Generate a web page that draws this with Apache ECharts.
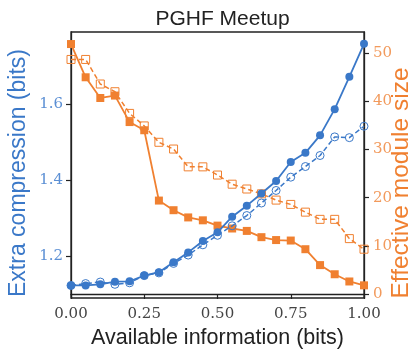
<!DOCTYPE html>
<html>
<head>
<meta charset="utf-8">
<script src="https://cdn.jsdelivr.net/npm/echarts@6/dist/echarts.min.js"></script>
<style>html,body{margin:0;padding:0;background:#fff}#c{width:415px;height:353px}</style>
</head>
<body>
<div id="c"></div>
<script>
const xValues = [0.00,0.05,0.10,0.15,0.20,0.25,0.30,0.35,0.40,0.45,0.50,0.55,0.60,0.65,0.70,0.75,0.80,0.85,0.90,0.95,1.00];
const compressionSolid = [1.122,1.122,1.125,1.132,1.133,1.148,1.157,1.183,1.209,1.239,1.262,1.303,1.332,1.364,1.397,1.447,1.471,1.517,1.586,1.671,1.758];
const compressionDashed = [1.122,1.127,1.131,1.125,1.129,1.148,1.155,1.180,1.202,1.229,1.254,1.279,1.306,1.339,1.372,1.407,1.435,1.464,1.513,1.511,1.541];
const moduleSolid = [51.9,45.0,40.7,41.2,35.7,34.0,19.4,17.4,15.9,15.3,14.2,13.6,13.1,11.8,11.2,11.1,9.3,6.0,4.1,2.6,1.8];
const moduleDashed = [48.7,48.7,43.6,42.0,37.5,34.9,31.5,30.1,26.4,26.4,24.7,22.8,21.8,20.8,19.5,18.6,17.0,15.5,15.5,11.5,9.3];
const xTicks = [0,0.25,0.5,0.75,1.0];
const leftTicks = [1.2,1.4,1.6];
const rightTicks = [0,10,20,30,40,50];

const BLUE = '#3a78c8';
const ORANGE = '#f08030';
const AXIS = '#222';
const serif = 'DejaVu Serif';
const sans = 'Liberation Sans';

function pairs(ys){ return xValues.map((x,i)=>[x, ys[i]]); }

const chart = echarts.init(document.getElementById('c'), null, {renderer:'canvas'});
chart.setOption({
  animation:false,
  backgroundColor:'#fff',
  title:{
    text:'PGHF Meetup', left:217.5, top:4, textAlign:'center',
    textStyle:{fontFamily:sans, fontSize:21, fontWeight:'normal', color:'#222'}
  },
  grid:{left:71, right:51, top:32, bottom:55, outerBoundsMode:'none', containLabel:false,
        show:true, borderColor:AXIS, borderWidth:1.3, backgroundColor:'transparent'},
  xAxis:{
    type:'value', min:0, max:1, interval:0.25,
    name:'Available information (bits)', nameLocation:'middle', nameGap:29, nameMoveOverlap:false,
    nameTextStyle:{fontFamily:sans, fontSize:21.5, color:'#222'},
    axisLine:{show:true, lineStyle:{color:AXIS, width:1.3}},
    axisTick:{show:true, length:5, customValues:xTicks, lineStyle:{color:AXIS, width:1.2}},
    axisLabel:{fontFamily:serif, fontSize:15, color:'#444', margin:9, customValues:xTicks, formatter:v=>v.toFixed(2)},
    splitLine:{show:false}
  },
  yAxis:[{
    type:'value', min:1.089, max:1.789, position:'left',
    name:'Extra compression (bits)', nameLocation:'middle', nameGap:41, nameRotate:90, nameMoveOverlap:false,
    nameTextStyle:{fontFamily:sans, fontSize:23, color:BLUE, padding:[0,16,0,0]},
    axisLine:{show:true, lineStyle:{color:AXIS, width:1.3}},
    axisTick:{show:true, length:5, customValues:leftTicks, lineStyle:{color:AXIS, width:1.2}},
    axisLabel:{fontFamily:serif, fontSize:15, color:'#5b8fd4', margin:8, customValues:leftTicks, formatter:v=>v.toFixed(1)},
    splitLine:{show:false}
  },{
    type:'value', min:-0.83, max:54.4, position:'right',
    name:'Effective module size', nameLocation:'middle', nameGap:25, nameRotate:90, nameMoveOverlap:false,
    nameTextStyle:{fontFamily:sans, fontSize:24.5, color:ORANGE, padding:[0,36,0,0]},
    axisLine:{show:true, lineStyle:{color:AXIS, width:1.3}},
    axisTick:{show:true, length:5, customValues:rightTicks, lineStyle:{color:AXIS, width:1.2}},
    axisLabel:{fontFamily:serif, fontSize:15, color:'#f29a5c', margin:9, customValues:rightTicks},
    splitLine:{show:false}
  }],
  series:[
    {type:'line', yAxisIndex:1, data:pairs(moduleDashed), symbol:'rect', symbolSize:8,
     lineStyle:{color:ORANGE, width:1.5, type:[5,3]},
     itemStyle:{color:'rgba(255,255,255,0)', borderColor:ORANGE, borderWidth:1}, z:2},
    {type:'line', yAxisIndex:1, data:pairs(moduleSolid), symbol:'rect', symbolSize:8,
     lineStyle:{color:ORANGE, width:1.8},
     itemStyle:{color:ORANGE, borderColor:ORANGE, borderWidth:0}, z:3},
    {type:'line', yAxisIndex:0, data:pairs(compressionDashed), symbol:'circle', symbolSize:8,
     lineStyle:{color:BLUE, width:1.5, type:[5,3]},
     itemStyle:{color:'rgba(255,255,255,0)', borderColor:BLUE, borderWidth:1}, z:4},
    {type:'line', yAxisIndex:0, data:pairs(compressionSolid), symbol:'circle', symbolSize:8,
     lineStyle:{color:BLUE, width:1.8},
     itemStyle:{color:BLUE, borderColor:BLUE, borderWidth:0}, z:5}
  ]
});
</script>
</body>
</html>
